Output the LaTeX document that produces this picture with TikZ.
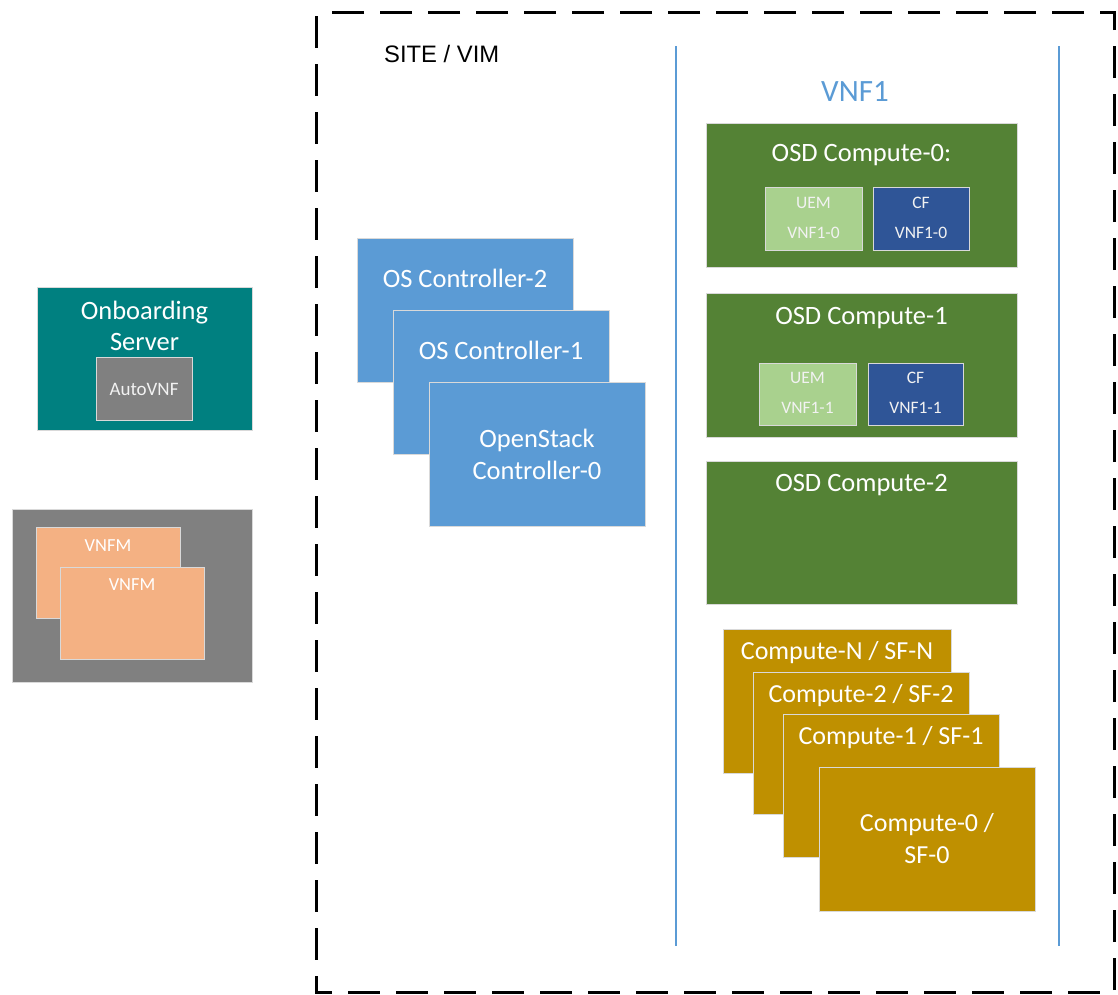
\documentclass[tikz,border=0pt]{standalone}
\usepackage{fontspec}
\setmainfont{Carlito}
\newfontfamily\arialfont{Liberation Sans}
\definecolor{teal0}{RGB}{0,128,128}
\definecolor{gray0}{RGB}{128,128,128}
\definecolor{peach}{RGB}{244,177,131}
\definecolor{blue0}{RGB}{91,155,213}
\definecolor{green0}{RGB}{84,130,53}
\definecolor{lgreen}{RGB}{169,209,142}
\definecolor{dblue}{RGB}{47,85,151}
\definecolor{gold0}{RGB}{191,144,0}
\tikzset{
  box/.style={draw=white!85!black, line width=0.8pt, inner sep=0pt, outer sep=0pt, anchor=north west},
  txt/.style={text=white, inner sep=0pt, align=center},
  big/.style={font=\fontsize{26.5}{32}\selectfont},
  gld/.style={font=\fontsize{26}{32}\selectfont},
  mid/.style={font=\fontsize{18.4}{22}\selectfont},
  small/.style={font=\fontsize{17.5}{30}\selectfont, text=white!95!black},
}
\newcommand{\bxx}[6]{\node[box, fill=#6, minimum width=#4-#2, minimum height=#5-#3] (#1) at (#2,#3) {};}
\begin{document}
\begin{tikzpicture}[x=1pt,y=-1pt]
\useasboundingbox (0,0) rectangle (1118,994);
% site frame
\draw[line width=3pt, dash pattern=on 32pt off 16pt, dash phase=-4pt] (316,12) rectangle (1114,992);
\node[font=\arialfont\fontsize{23.8}{28}\selectfont, anchor=west, inner sep=0pt] (site) at (384,54) {SITE / VIM};
% VNF1 lines
\coordinate (l1t) at (676,46); \coordinate (l1b) at (676,946);
\coordinate (l2t) at (1059,46); \coordinate (l2b) at (1059,946);
\draw[blue0, line width=2pt] (l1t) -- (l1b);
\draw[blue0, line width=2pt] (l2t) -- (l2b);
\node[text=blue0, font=\fontsize{31}{36}\selectfont, inner sep=0pt] (vnf1) at (855,92) {VNF1};
% onboarding
\bxx{onb}{37}{287}{252}{430}{teal0}
\node[txt, font=\fontsize{26.5}{31}\selectfont] (onbt) at (144.5,326) {Onboarding\\Server};
\bxx{auto}{96}{357}{192}{420}{gray0}
\node[txt, small, font=\fontsize{19}{22}\selectfont] (autot) at (144,389) {AutoVNF};
% VNFM
\bxx{vg}{12}{509}{252}{682}{gray0}
\bxx{vm1}{36}{527}{180}{618}{peach}
\node[txt, mid] (vm1t) at (108,546) {VNFM};
\bxx{vm2}{60}{567}{204}{659}{peach}
\node[txt, mid] (vm2t) at (132,585) {VNFM};
% controllers
\bxx{c2}{357}{238}{573}{382}{blue0}
\node[txt, big] (c2t) at (465,278) {OS Controller-2};
\bxx{c1}{393}{310}{609}{454}{blue0}
\node[txt, big] (c1t) at (501,350) {OS Controller-1};
\bxx{c0}{429}{382}{645}{526}{blue0}
\node[txt, big] (c0t) at (537,454) {OpenStack\\Controller-0};
% OSD computes
\bxx{o0}{706}{123}{1017}{267}{green0}
\node[txt, big] (o0t) at (861.5,155) {OSD Compute-0:};
\bxx{u0}{765}{187}{862}{250}{lgreen}
\node[txt, small] (u0t) at (813.5,218) {UEM\\VNF1-0};
\bxx{f0}{873}{187}{969}{250}{dblue}
\node[txt, small] (f0t) at (921,218) {CF\\VNF1-0};
\bxx{o1}{706}{293}{1017}{437}{green0}
\node[txt, big] (o1t) at (861.5,318) {OSD Compute-1};
\bxx{u1}{759}{363}{856}{425}{lgreen}
\node[txt, small] (u1t) at (807.5,393) {UEM\\VNF1-1};
\bxx{f1}{868}{363}{963}{425}{dblue}
\node[txt, small] (f1t) at (915.5,393) {CF\\VNF1-1};
\bxx{o2}{706}{461}{1017}{604}{green0}
\node[txt, big] (o2t) at (861.5,485) {OSD Compute-2};
% SF computes
\bxx{sn}{723}{629}{951}{773}{gold0}
\node[txt, gld] (snt) at (837,653) {Compute-N / SF-N};
\bxx{s2}{753}{672}{969}{814}{gold0}
\node[txt, gld] (s2t) at (861,696) {Compute-2 / SF-2};
\bxx{s1}{783}{714}{999}{857}{gold0}
\node[txt, gld] (s1t) at (891,738) {Compute-1 / SF-1};
\bxx{s0}{819}{767}{1035}{911}{gold0}
\node[txt, gld] (s0t) at (927,839) {Compute-0 /\\SF-0};
\end{tikzpicture}
\end{document}
